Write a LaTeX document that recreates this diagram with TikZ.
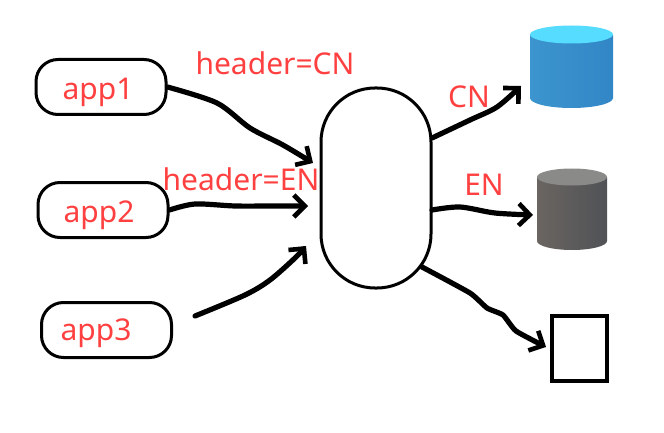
\documentclass[tikz,border=0pt]{standalone}
\usepackage{fontspec}
\setmainfont{Noto Sans}
\usetikzlibrary{arrows.meta}
\definecolor{labelred}{HTML}{FF4040}
\definecolor{blueside}{HTML}{3C95CE}
\definecolor{bluemid}{HTML}{2A9ADF}
\definecolor{blueedge}{HTML}{3286C6}
\definecolor{bluetop}{HTML}{55DCFF}
\definecolor{greyside}{HTML}{6A6561}
\definecolor{greymid}{HTML}{5A5A5A}
\definecolor{greyedge}{HTML}{505256}
\definecolor{greytop}{HTML}{8A8A88}
\tikzset{
  appbox/.style={draw, line width=3pt, rounded corners=22pt, minimum width=130pt, minimum height=55pt, inner sep=0pt},
  redtext/.style={text=labelred, font=\fontsize{30}{34}\selectfont, inner sep=0pt},
  inkline/.style={line width=5.2pt, line cap=round, line join=round, -{Straight Barb[length=11pt,width=22pt,line width=4.6pt]}}
}
\begin{document}
\begin{tikzpicture}[x=1pt,y=-1pt]
  \useasboundingbox (0,0) rectangle (664,433);

  \node[appbox] (app1) at (101,87) {};
  \node[appbox] (app2) at (103,210) {};
  \node[appbox] (app3) at (106.5,330) {};
  \node[draw, line width=3pt, rounded corners=54pt, minimum width=110pt, minimum height=200pt, inner sep=0pt] (gateway) at (376,188) {};
  \node[draw, line width=3.4pt, minimum width=55pt, minimum height=65pt, inner sep=0pt] (otherbox) at (579.5,348.5) {};

  % blue database
  \shade[left color=blueside, middle color=bluemid, right color=blueedge]
    (530,35) -- (530,98) arc[x radius=41.5, y radius=10, start angle=180, end angle=0] -- (613,35) -- cycle;
  \fill[bluetop] (571.5,34.5) ellipse (41.5 and 9);
  % grey database
  \shade[left color=greyside, middle color=greymid, right color=greyedge]
    (537,177) -- (537,241) arc[x radius=35, y radius=9, start angle=180, end angle=0] -- (607,177) -- cycle;
  \fill[greytop] (572,177) ellipse (35 and 8.5);

  \node[redtext] (lblcn) at (275,63) {header=CN};
  \node[redtext] (lblen) at (241,179) {header=EN};
  \node[redtext] (name1) at (98,92) {app1};
  \node[redtext] (name2) at (99,215) {app2};
  \node[redtext] (name3) at (96,333) {app3};
  \node[redtext] (routecn) at (469,97) {CN};
  \node[redtext] (routeen) at (484,185) {EN};

  \coordinate (in1) at (313,163);
  \coordinate (in2) at (308,206);
  \coordinate (in3) at (306,246);
  \coordinate (start3) at (195,316);
  \coordinate (outcn) at (432,138);
  \coordinate (outen) at (432,210);
  \coordinate (outother) at (422,267);
  \coordinate (tipcn) at (521,86);
  \coordinate (tipen) at (533,215);

  \draw[inkline] plot[smooth, tension=0.5] coordinates {(app1.east) (217,103) (250,128) (283,145) (in1)};
  \draw[inkline] plot[smooth, tension=0.5] coordinates {(app2.east) (195,204) (235,206) (272,206) (in2)};
  \draw[inkline] plot[smooth, tension=0.5] coordinates {(start3) (245,295) (270,280) (295,258) (in3)};
  \draw[inkline] plot[smooth, tension=0.5] coordinates {(outcn) (470,120) (497,107) (tipcn)};
  \draw[inkline] plot[smooth, tension=0.5] coordinates {(outen) (460,207) (495,213) (tipen)};
  \draw[inkline] plot[smooth, tension=0.3] coordinates {(outother) (470,293) (487,308) (503,315) (516,331) (546,347)};
\end{tikzpicture}
\end{document}
